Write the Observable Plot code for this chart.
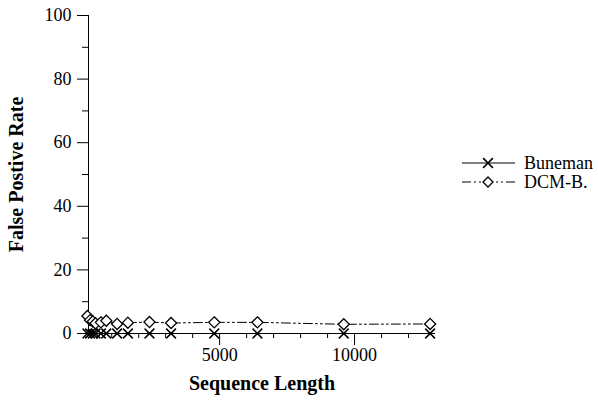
<!DOCTYPE html>
<html>
<head>
<meta charset="utf-8">
<script src="https://cdn.jsdelivr.net/npm/d3@7"></script>
<script src="https://cdn.jsdelivr.net/npm/@observablehq/plot@0.6"></script>
<style>
  html, body { margin: 0; padding: 0; background: #fff; }
  #chart { width: 598px; height: 401px; }
  #chart svg, #chart svg text { font-family: "Liberation Serif", "Times New Roman", serif !important; }
</style>
</head>
<body>
<div id="chart"></div>
<script>
const lengths = [100, 200, 300, 400, 600, 800, 1200, 1600, 2400, 3200, 4800, 6400, 9600, 12800];
const buneman = [0, 0, 0, 0, 0, 0, 0, 0, 0, 0, 0, 0, 0, 0];
const dcmB =    [5.5, 4.2, 3.8, 3.2, 3.5, 4.0, 3.0, 3.4, 3.6, 3.3, 3.5, 3.5, 2.9, 3.0];
const seriesNames = ["Buneman", "DCM-B."];
const xMajorTicks = [5000, 10000];
const xMinorTicks = [1000, 2000, 3000, 4000, 6000, 7000, 8000, 9000, 11000, 12000];
const yMajorTicks = [0, 20, 40, 60, 80, 100];
const yMinorTicks = [10, 30, 50, 70, 90];

const bData = lengths.map((x, i) => ({x, y: buneman[i]}));
const dData = lengths.map((x, i) => ({x, y: dcmB[i]}));
const xDomain = [140, 13000];
const SERIF = "'Liberation Serif', 'Times New Roman', serif";

const chart = Plot.plot({
  width: 598,
  height: 401,
  marginLeft: 88,
  marginRight: 163,
  marginTop: 15,
  marginBottom: 68,
  style: {fontSize: "18px", fontFamily: SERIF, color: "black", background: "white", overflow: "visible"},
  x: {domain: xDomain, labelArrow: "none"},
  y: {domain: [0, 100], labelArrow: "none"},
  marks: [
    Plot.axisY({ticks: yMinorTicks, tickSize: 6, tickFormat: () => "", label: null}),
    Plot.axisY({ticks: yMajorTicks, tickSize: 11, tickPadding: 6, label: "False Postive Rate", labelArrow: "none", labelAnchor: "center", labelOffset: 80, fontSize: 18}),
    Plot.axisX({ticks: xMinorTicks, tickSize: 5, tickFormat: () => "", label: null}),
    Plot.axisX({ticks: xMajorTicks, tickSize: 12, tickPadding: 3, tickFormat: d => String(d), label: "Sequence Length", labelArrow: "none", labelAnchor: "center", labelOffset: 56, fontSize: 18}),
    Plot.ruleX([xDomain[0]], {stroke: "black"}),
    Plot.ruleY([0], {stroke: "black"}),
    Plot.line(dData, {x: "x", y: "y", stroke: "black", strokeWidth: 1, strokeDasharray: "9,3,2,3,2,3"}),
    Plot.line(bData, {x: "x", y: "y", stroke: "black", strokeWidth: 1}),
    Plot.dot(bData, {x: "x", y: "y", symbol: "times", r: 4.5, stroke: "black", strokeWidth: 1.5}),
    Plot.dot(dData, {x: "x", y: "y", symbol: "diamond2", r: 5, stroke: "black", fill: "white", strokeWidth: 1.3})
  ]
});
chart.setAttribute("font-family", SERIF);
document.getElementById("chart").appendChild(chart);

// Legend (drawn into the SVG with d3 symbols)
const svg = d3.select(chart);
const lg = svg.append("g").attr("font-size", 18).attr("fill", "black").attr("text-anchor", "start");
const items = [
  {name: seriesNames[0], dash: null, sym: d3.symbolTimes, fill: "none", sw: 1.5},
  {name: seriesNames[1], dash: "9,3,2,3,2,3", sym: d3.symbolDiamond2, fill: "white", sw: 1.3}
];
items.forEach((it, i) => {
  const y = 163 + i * 19;
  lg.append("line").attr("x1", 462).attr("x2", 515).attr("y1", y).attr("y2", y)
    .attr("stroke", "black").attr("stroke-width", 1).attr("stroke-dasharray", it.dash);
  lg.append("path").attr("transform", `translate(488,${y})`)
    .attr("d", d3.symbol(it.sym, 64)())
    .attr("stroke", "black").attr("fill", it.fill).attr("stroke-width", it.sw);
  lg.append("text").attr("x", 524).attr("y", y).attr("dy", "0.35em").text(it.name);
});

// Force serif font on every text element (inline, important)
svg.selectAll("text").each(function() {
  this.setAttribute("font-family", SERIF);
  this.style.setProperty("font-family", SERIF, "important");
});
// Bold axis titles
svg.selectAll('g[aria-label="y-axis label"] text, g[aria-label="x-axis label"] text').each(function() {
  this.setAttribute("font-weight", "bold");
  this.setAttribute("font-size", "20");
  this.style.setProperty("font-weight", "bold", "important");
  this.style.setProperty("font-size", "20px", "important");
});
</script>
</body>
</html>
